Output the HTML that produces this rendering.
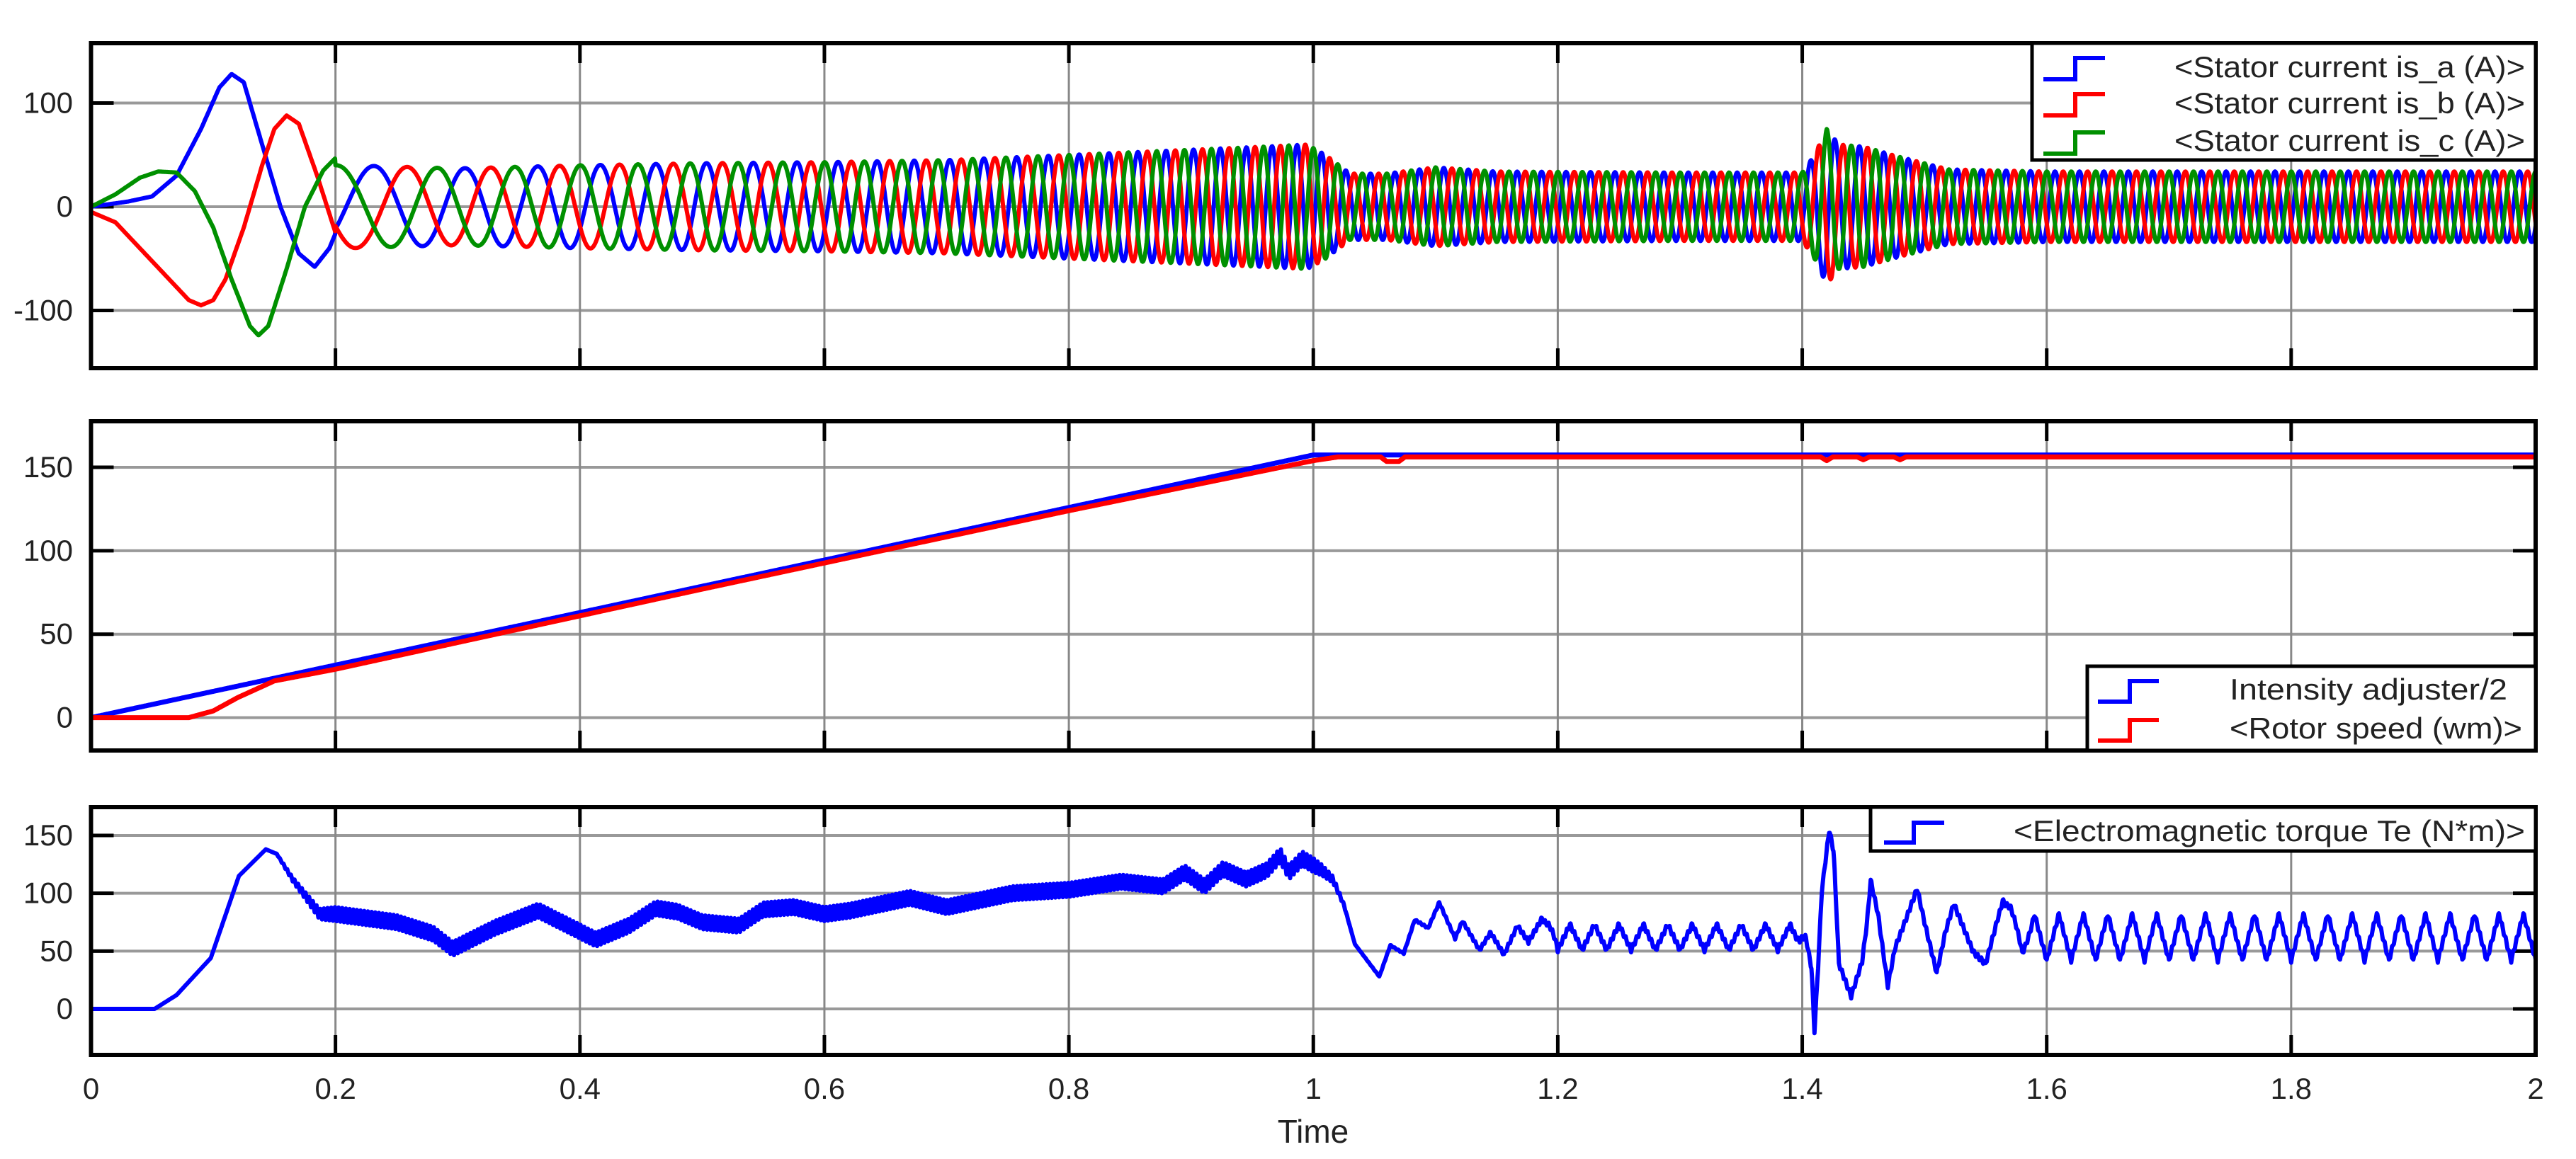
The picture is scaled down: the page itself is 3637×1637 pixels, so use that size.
<!DOCTYPE html>
<html><head><meta charset="utf-8"><title>Motor simulation</title>
<style>html,body{margin:0;padding:0;background:#fff}svg{display:block}text{font-family:"Liberation Sans",sans-serif;fill:#222}</style>
</head><body>
<svg id="chart" xmlns="http://www.w3.org/2000/svg" width="3637" height="1637" viewBox="0 0 3637 1637">
<rect width="3637" height="1637" fill="#fff"/>
<g id="g"></g>
<text x="1854" y="1614" font-size="46" text-anchor="middle">Time</text>
</svg>
<script>
// ---- data ----
const xTicks = [0,0.2,0.4,0.6,0.8,1,1.2,1.4,1.6,1.8,2];
const xTickLabels = ["0","0.2","0.4","0.6","0.8","1","1.2","1.4","1.6","1.8","2"];
const p1Ticks = [-100,0,100];
const p2Ticks = [0,50,100,150];
const p3Ticks = [0,50,100,150];
// stator currents: early transient keypoints
const iaT = [0,0.03,0.05,0.07,0.09,0.105,0.115,0.125,0.14,0.155,0.17,0.183,0.195,0.21];
const iaV = [0,5,10,30,75,115,128,120,60,0,-45,-58,-40,3];
const ibT = [0,0.02,0.04,0.06,0.08,0.09,0.10,0.11,0.125,0.14,0.15,0.16,0.17,0.185,0.2,0.21];
const ibV = [-5,-15,-40,-65,-90,-95,-90,-70,-20,40,75,88,80,30,-25,-40];
const icT = [0,0.02,0.04,0.055,0.07,0.085,0.10,0.115,0.13,0.137,0.145,0.16,0.175,0.19,0.2,0.21];
const icV = [0,12,28,34,33,15,-20,-70,-115,-124,-115,-60,0,35,47,37];
// stator current envelope and electrical frequency
const envT = [0.21,0.3,0.4,0.5,0.6,0.7,0.8,0.9,0.96,0.995,1.01,1.03,1.06,1.1,1.15,1.3,1.4,1.41,1.42,1.43,1.45,1.48,1.52,1.6,2.0];
const envA = [40,37,40,42,43,45,50,55,58,60,50,32,32,38,34,33,33,50,75,60,58,48,36,34,34];
const freqT = [0,1,2];
const freqHz = [0,50,50];
// speed
const spT = [0,1.0,2.0];
const spRef = [0,157.4,157.4];
const rotT = [0,0.08,0.1,0.12,0.15,0.2,0.3,0.5,0.8,1.0,1.02,1.055,1.06,1.07,1.075,1.415,1.42,1.425,1.445,1.45,1.455,1.475,1.48,1.485,2.0];
const rotV = [0,0,4,12,22,29,45,77,124,154,156.2,156.2,153.5,153.5,156.2,156.2,154,156.2,156.2,154.5,156.2,156.2,154.5,156.2,156.2];
// torque
const tqT = [0,0.052,0.07,0.098,0.121,0.143,0.152,0.165,0.187,0.2,0.25,0.28,0.296,0.33,0.366,0.413,0.44,0.462,0.48,0.5,0.53,0.55,0.575,0.6,0.621,0.67,0.7,0.754,0.8,0.843,0.877,0.895,0.911,0.926,0.945,0.962,0.973,0.98,0.991,1.007,1.016,1.025,1.034,1.054,1.063,1.074,1.083,1.094,1.103,1.116,1.122,1.136,1.145,1.156,1.167,1.176,1.187,1.2,1.4029,1.4076,1.41,1.413,1.416,1.4221,1.4257,1.428,1.43,1.44,1.449,1.453,1.456,1.462,1.47,1.476,1.485,1.494,1.5,1.51,1.517,1.524,1.54,1.55,1.564,1.58,2.0];
const tqV = [0,0,12,44,115,138,134,112,82,82,75,65,52,70,85,60,72,87,84,75,72,86,88,82,85,96,88,100,103,110,106,118,106,121,112,120,133,118,130,120,112,90,56,28,55,48,77,70,92,61,76,51,66,47,72,58,78,62,62,35,-19,37,102,155,136,85,39,11,41,75,111,82,20,53,78,104,75,31,66,91,49,39,94,62,62];
const ripT = [0,1.19,1.2,1.395,1.4,1.56,1.59,2];
const ripA = [0,0,11,11,0,0,20,20];
const fineT = [0,0.15,0.2,1.0,1.03,1.2,2];
const fineA = [0,0,6,6,0,2,2];

// ---- layout ----
const X0=128.5, X1=3580;
const panels=[
 {name:"stator-current",top:61,bot:520,ymin:-155.6,ymax:157.7,ticks:p1Ticks},
 {name:"speed",top:595,bot:1060,ymin:-19.7,ymax:177.6,ticks:p2Ticks},
 {name:"torque",top:1140,bot:1490,ymin:-39.8,ymax:174.5,ticks:p3Ticks}];
const NS="http://www.w3.org/2000/svg";
const G=document.getElementById('g');
function mk(tag,attrs,parent){const e=document.createElementNS(NS,tag);for(const k in attrs)e.setAttribute(k,attrs[k]);(parent||G).appendChild(e);return e;}
const xs=t=>X0+(t-0)/(2-0)*(X1-X0);
function ysF(p){return v=>p.bot-(v-p.ymin)/(p.ymax-p.ymin)*(p.bot-p.top);}
function interp(T,V,t){if(t<=T[0])return V[0];for(let i=1;i<T.length;i++){if(t<=T[i]){const f=(t-T[i-1])/(T[i]-T[i-1]);return V[i-1]+f*(V[i]-V[i-1]);}}return V[V.length-1];}
function tri(u){const f=u-Math.floor(u);return f<0.5?4*f-1:3-4*f;}

panels.forEach(p=>{
 const ys=ysF(p);
 const g=mk('g',{});
 
 
 p.g=g;p.ys=ys;
 p.ticks.forEach((v,i)=>{
  const l=mk('line',{x1:X0,x2:X1,y1:ys(v),y2:ys(v),stroke:'#999','stroke-width':4},g);
  
  mk('line',{x1:X0,x2:X0+32,y1:ys(v),y2:ys(v),stroke:'#000','stroke-width':5},g);
  mk('line',{x1:X1-32,x2:X1,y1:ys(v),y2:ys(v),stroke:'#000','stroke-width':5},g);
  const t=mk('text',{x:103,y:ys(v)+14,'font-size':42,'text-anchor':'end'},g);
  
  t.textContent=String(v);
 });
 xTicks.forEach(tv=>{
  const l=mk('line',{x1:xs(tv),x2:xs(tv),y1:p.top,y2:p.bot,stroke:'#888','stroke-width':3},g);
  
  mk('line',{x1:xs(tv),x2:xs(tv),y1:p.top,y2:p.top+28,stroke:'#000','stroke-width':5},g);
  mk('line',{x1:xs(tv),x2:xs(tv),y1:p.bot-28,y2:p.bot,stroke:'#000','stroke-width':5},g);
 });
});

function addPath(p,pts,color,name,w){
 let d='';pts.forEach((q,i)=>{d+=(i?'L':'M')+xs(q[0]).toFixed(1)+' '+p.ys(q[1]).toFixed(1);});
 const e=mk('path',{d:d,fill:'none',stroke:color,'stroke-width':w||6,'stroke-linejoin':'round'},p.g);
 
 
}

// stator currents
(function(){
 const dt=0.0004, ph=[0,-1/3,1/3], early=[[iaT,iaV],[ibT,ibV],[icT,icV]];
 const series=[[],[],[]];
 let cyc=-0.09;
 for(let t=0;t<=2.00001;t+=dt){
  if(t>0) cyc+=interp(freqT,freqHz,t-dt/2)*dt;
  for(let k=0;k<3;k++){
   let v;
   if(t<=0.2) v=interp(early[k][0],early[k][1],t);
   else v=interp(envT,envA,t)*Math.sin(2*Math.PI*(cyc+ph[k]));
   series[k].push([t,v]);
  }
 }
 addPath(panels[0],series[0],'#0000ff','stator-current-a-line',6);
 addPath(panels[0],series[1],'#ff0000','stator-current-b-line',6);
 addPath(panels[0],series[2],'#009000','stator-current-c-line',6);
})();
// speed
(function(){
 const a=[],b=[];
 for(let t=0;t<=2.00001;t+=0.001){a.push([t,interp(spT,spRef,t)]);b.push([t,interp(rotT,rotV,t)]);}
 addPath(panels[1],a,'#0000ff','intensity-adjuster-line',7);
 addPath(panels[1],b,'#ff0000','rotor-speed-line',7);
})();
// torque
(function(){
 const a=[];
 for(let t=0;t<=2.00001;t+=0.0005){
  const v=interp(tqT,tqV,t)+interp(ripT,ripA,t)*tri(t/0.02)+interp(fineA.length?fineT:fineT,fineA,t)*tri(t/0.003);
  a.push([t,v]);
 }
 addPath(panels[2],a,'#0000ff','electromagnetic-torque-line',6);
})();

panels.forEach(p=>{
 const r=mk('rect',{x:X0,y:p.top,width:X1-X0,height:p.bot-p.top,fill:'none',stroke:'#000','stroke-width':6},p.g);
 
});
xTicks.forEach((tv,i)=>{
 const t=mk('text',{x:xs(tv),y:1552,'font-size':42,'text-anchor':'middle'});
 
 t.textContent=xTickLabels[i];
});

function legend(box,rows,name){
 const g=mk('g',{});
 
 
 mk('rect',{x:box[0],y:box[1],width:box[2],height:box[3],fill:'#fff',stroke:'#000','stroke-width':5},g);
 rows.forEach(r=>{
  const ic=mk('path',{d:`M${r.ix0} ${r.ylo}H${r.ix1}V${r.yhi}H${r.ix2}`,fill:'none',stroke:r.c,'stroke-width':6},g);
  
  const t=mk('text',{x:r.tx,y:r.ty,'font-size':42,textLength:r.tw,lengthAdjust:'spacingAndGlyphs'},g);
  
  t.textContent=r.s;
 });
}
legend([2869,61,711,165],[
 {c:'#0000ff',ix0:2885,ix1:2930,ix2:2972,ylo:112,yhi:82,tx:3070,ty:109,tw:495,s:'<Stator current is_a (A)>'},
 {c:'#ff0000',ix0:2885,ix1:2930,ix2:2972,ylo:163,yhi:133,tx:3070,ty:160,tw:495,s:'<Stator current is_b (A)>'},
 {c:'#009000',ix0:2885,ix1:2930,ix2:2972,ylo:217,yhi:187,tx:3070,ty:213,tw:495,s:'<Stator current is_c (A)>'}],'current-legend');
legend([2947,941,633,119],[
 {c:'#0000ff',ix0:2962,ix1:3007,ix2:3048,ylo:991,yhi:962,tx:3148,ty:988,tw:392,s:'Intensity  adjuster/2'},
 {c:'#ff0000',ix0:2962,ix1:3007,ix2:3048,ylo:1046,yhi:1017,tx:3148,ty:1043,tw:413,s:'<Rotor speed (wm)>'}],'speed-legend');
legend([2641,1140,939,62],[
 {c:'#0000ff',ix0:2660,ix1:2702,ix2:2745,ylo:1190,yhi:1162,tx:2843,ty:1188,tw:722,s:'<Electromagnetic torque Te (N*m)>'}],'torque-legend');
</script>
</body></html>
